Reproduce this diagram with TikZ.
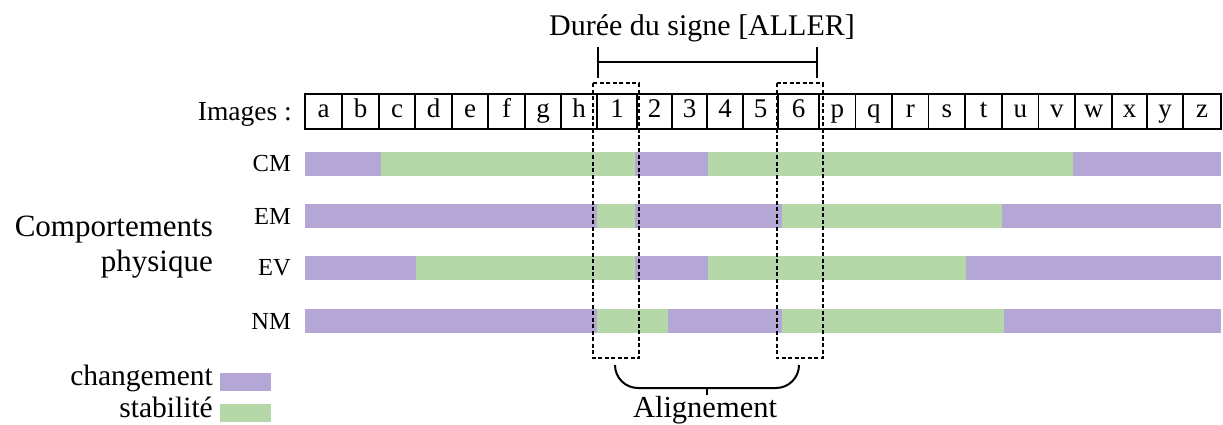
\documentclass[tikz,border=0pt]{standalone}
\usepackage{fontspec}
\setmainfont{Liberation Serif}
\definecolor{chg}{HTML}{B4A7D6}
\definecolor{stb}{HTML}{B6D7A8}
\tikzset{
  cell/.style={draw, line width=1.8pt, minimum height=35pt, inner sep=0pt,
    text height=19pt, text depth=6pt, font=\fontsize{27}{30}\selectfont},
  lab/.style={inner sep=0pt, font=\fontsize{24.5}{28}\selectfont},
  big/.style={inner sep=0pt, font=\fontsize{31}{36}\selectfont},
  leg/.style={inner sep=0pt, font=\fontsize{29.5}{34}\selectfont},
  dbox/.style={draw, line width=2pt, dash pattern=on 4pt off 2.5pt},
  brk/.style={draw, line width=2pt},
}
\begin{document}
\begin{tikzpicture}[x=1pt,y=-1pt]
\useasboundingbox (0,0) rectangle (1223,425);
% title and duration bracket
\node[inner sep=0pt, anchor=base, font=\fontsize{30}{34}\selectfont] (title) at (702,36) {Durée du signe [ALLER]};
\coordinate (bl) at (598.3,62.5);
\coordinate (br) at (816.7,62.5);
\draw[brk] (bl) -- (br);
\draw[brk] ([yshift=15.5pt]bl) -- ([yshift=-15.5pt]bl);
\draw[brk] ([yshift=15.5pt]br) -- ([yshift=-15.5pt]br);
% images row
\node[inner sep=0pt, anchor=base east, font=\fontsize{27.5}{30}\selectfont] (img) at (292,121) {Images :};
\foreach \l/\r/\t in {305/342/a,342/379/b,379/415/c,415/452/d,452/488/e,488/525/f,525/561/g,561/597/h,
  597/637/1,637/672/2,672/707/3,707/743/4,743/778/5,778/819/6,
  819/855.5/p,855.5/892/q,892/928.5/r,928.5/965/s,965/1002/t,1002/1038.5/u,1038.5/1075/v,
  1075/1112/w,1112/1147/x,1147/1183/y,1183/1221/z}
  \node[cell, minimum width={(\r-\l)*1pt}] (c\t) at ({(\l+\r)/2},111.5) {\t};
% bars
\foreach \y/\segs in {152/{305/380.5/chg,380.5/635/stb,635/708/chg,708/1073/stb,1073/1221/chg},
  204/{305/597/chg,597/635/stb,635/782/chg,782/1002/stb,1002/1221/chg},
  256/{305/416/chg,416/635/stb,635/708/chg,708/966/stb,966/1221/chg},
  309/{305/597/chg,597/668/stb,668/782/chg,782/1003.5/stb,1003.5/1221/chg}}
  \foreach \a/\b/\c in \segs
    \fill[\c] (\a,\y) rectangle (\b,\y+24);
% row labels
\node[lab, anchor=east] (lCM) at (291,164) {CM};
\node[lab, anchor=east] (lEM) at (291,216) {EM};
\node[lab, anchor=east] (lEV) at (291,268) {EV};
\node[lab, anchor=east] (lNM) at (291,321) {NM};
\node[big, anchor=base east] (comp1) at (213,236) {Comportements};
\node[big, anchor=base east] (comp2) at (213,271) {physique};
% dashed boxes
\draw[dbox] (593.3,83.5) rectangle (639.3,358);
\draw[dbox] (776.7,83.5) rectangle (822.7,358);
% alignment brace
\coordinate (tip) at (706.5,388);
\draw[brk] (615,365) to[out=-90,in=180] (638,388) -- (776,388) to[out=0,in=-90] (799,365);
\draw[brk] (tip) -- ++(0,7);
\node[inner sep=0pt, anchor=base, font=\fontsize{30.5}{34}\selectfont] (align) at (705,417) {Alignement};
% legend
\node[leg, anchor=base east] (lchg) at (213,385) {changement};
\node[leg, anchor=base east] (lstb) at (213,417) {stabilité};
\fill[chg] (220,373) rectangle (271,391);
\fill[stb] (220,404) rectangle (271,422);
\end{tikzpicture}
\end{document}
